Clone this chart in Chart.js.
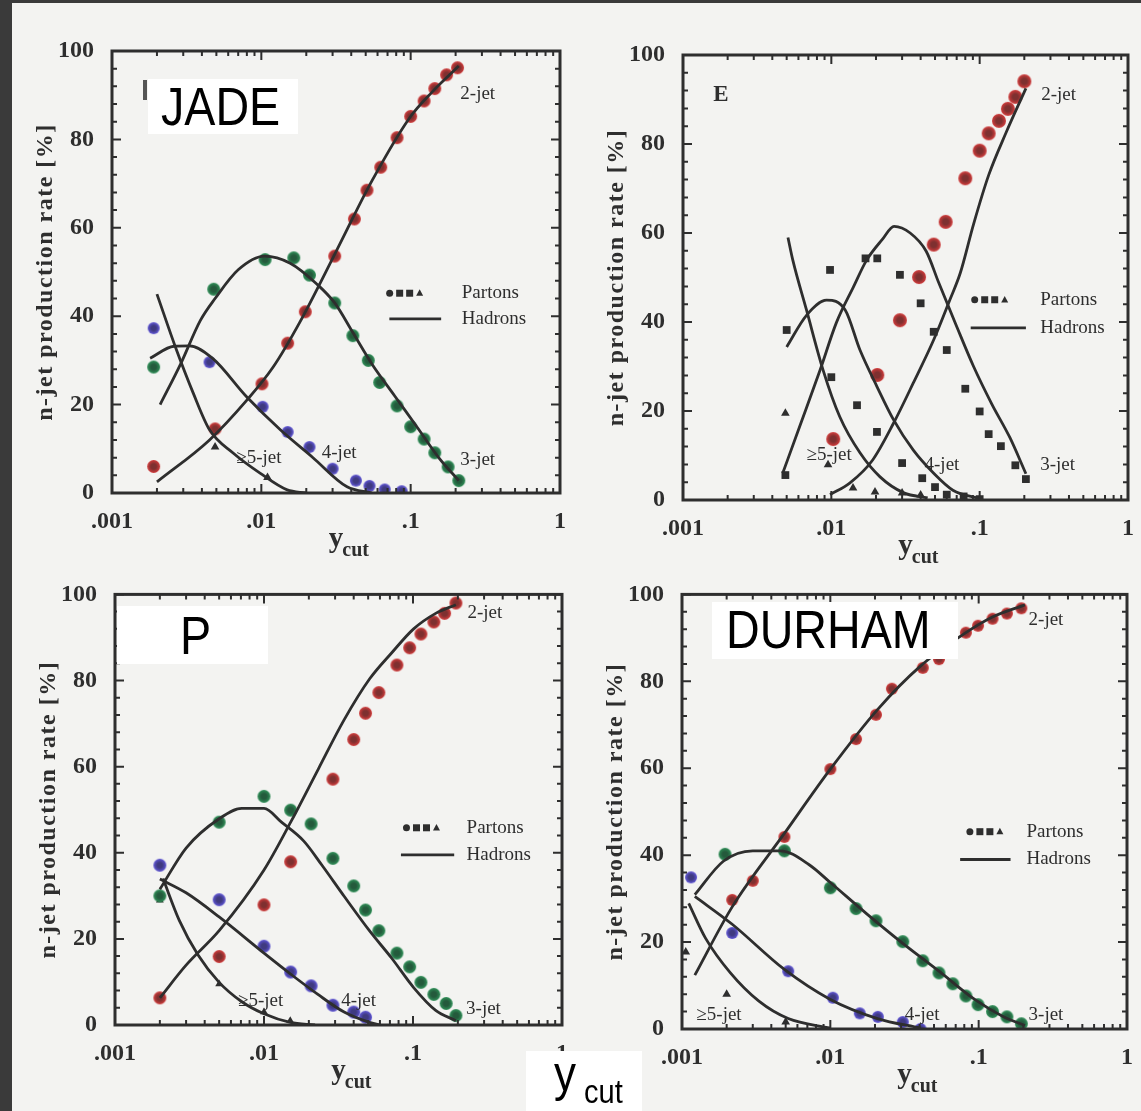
<!DOCTYPE html>
<html>
<head>
<meta charset="utf-8">
<script src="https://cdn.jsdelivr.net/npm/chart.js@4.4.1/dist/chart.umd.min.js"></script>
<style>
  html, body { margin: 0; padding: 0; }
  body { width: 1141px; height: 1111px; position: relative; overflow: hidden; background: #f3f3f1; }
  .edge-left { position: absolute; left: 0; top: 0; width: 12px; height: 1111px; background: #3a3a3a; }
  .edge-top { position: absolute; left: 0; top: 0; width: 1141px; height: 3px; background: #3a3a3a; }
  canvas { position: absolute; }
  .tag { position: absolute; background: #fff; color: #000; font-family: "Liberation Sans", sans-serif; line-height: 1; white-space: nowrap; }
  .tag span { position: absolute; transform: scaleX(0.88); transform-origin: left top; }
  .stray { position: absolute; left: 143px; top: 80px; width: 4px; height: 20px; background: #555; }
</style>
</head>
<body>
<div class="edge-left"></div>
<div class="edge-top"></div>
<div class="stray"></div>
<div class="tag" style="left:148px; top:79px; width:150px; height:55px;"><span style="left:13px; top:1px; font-size:53px;">JADE</span></div>
<div class="tag" style="left:117px; top:606px; width:151px; height:58px;"><span style="left:63px; top:3px; font-size:53px;">P</span></div>
<div class="tag" style="left:712px; top:602px; width:246px; height:57px;"><span style="left:14px; top:1px; font-size:53px;">DURHAM</span></div>
<div class="tag" style="left:526px; top:1051px; width:116px; height:60px;"><span style="left:28px; top:-2px; font-size:50px;">y</span><span style="left:58px; top:24px; font-size:33px;">cut</span></div>

<script>
// axis ticks and text
const xTickValues = [0.001, 0.01, 0.1, 1];
const xTickLabels = ['.001', '.01', '.1', '1'];
const yTickValues = [0, 20, 40, 60, 80, 100];
const jetLabels = ['2-jet', '3-jet', '4-jet', '≥5-jet'];
const legendLabels = ['Partons', 'Hadrons'];
const yTitle = 'n-jet production rate [%]';

// JADE: partons (points) and hadrons (curves), [ycut, rate %]
const jadeP2 = [[0.0019, 6], [0.0049, 14.5], [0.0101, 24.7], [0.015, 33.9], [0.0197, 41], [0.031, 53.6], [0.042, 62], [0.051, 68.5], [0.063, 73.7], [0.081, 80.4], [0.1, 85.2], [0.123, 88.7], [0.145, 91.5], [0.174, 94.6], [0.206, 96.2]];
const jadeP3 = [[0.0019, 28.5], [0.0048, 46.1], [0.0106, 52.8], [0.0165, 53.2], [0.021, 49.3], [0.031, 43], [0.041, 35.6], [0.052, 30], [0.062, 25], [0.081, 19.7], [0.1, 15], [0.123, 12.2], [0.145, 9.1], [0.178, 5.9], [0.21, 2.8]];
const jadeP4 = [[0.0019, 37.3], [0.0045, 29.6], [0.0102, 19.5], [0.015, 13.8], [0.021, 10.4], [0.03, 5.5], [0.043, 2.8], [0.053, 1.6], [0.067, 0.8], [0.087, 0.4]];
const jadeP5 = [[0.0049, 10.4], [0.011, 3.5]];
const jadeH2 = [[0.002, 2.5], [0.0045, 12], [0.008, 21], [0.012, 28.5], [0.018, 38.5], [0.031, 54], [0.055, 70.6], [0.098, 84.8], [0.139, 90.7], [0.21, 96.6]];
const jadeH3 = [[0.0021, 20], [0.0029, 29.4], [0.0039, 39], [0.0049, 44], [0.007, 50.5], [0.0105, 53.6], [0.0156, 52], [0.0235, 47.3], [0.031, 43], [0.041, 36.3], [0.055, 29.2], [0.078, 22], [0.11, 15], [0.155, 7.9], [0.21, 2.8]];
const jadeH4 = [[0.0018, 30.5], [0.0026, 33.2], [0.0033, 33.3], [0.0047, 30.5], [0.008, 21.7], [0.0134, 14.3], [0.022, 8.1], [0.0375, 1.4], [0.055, 0]];
const jadeH5 = [[0.002, 45], [0.0027, 32.4], [0.0035, 22.6], [0.0045, 14.3], [0.0065, 9], [0.0098, 4.5], [0.0149, 0.7], [0.02, 0]];

// E scheme
const eP2 = [[0.0103, 13.7], [0.0204, 28.1], [0.029, 40.4], [0.039, 50.1], [0.049, 57.4], [0.059, 62.5], [0.08, 72.3], [0.1, 78.5], [0.115, 82.4], [0.135, 85.2], [0.155, 87.9], [0.174, 90.6], [0.2, 94.1]];
const eP3 = [[0.0049, 5.6], [0.0098, 51.7], [0.017, 54.3], [0.0204, 54.3], [0.029, 50.6], [0.04, 44.2], [0.049, 37.8], [0.06, 33.7], [0.08, 25], [0.1, 19.9], [0.115, 14.8], [0.139, 12.1], [0.174, 7.8], [0.205, 4.7]];
const eP4 = [[0.005, 38.2], [0.01, 27.6], [0.0149, 21.3], [0.0203, 15.3], [0.03, 8.3], [0.041, 4.9], [0.05, 2.9], [0.06, 1.2], [0.078, 0.8], [0.1, 0.2]];
const eP5 = [[0.0049, 19.5], [0.0095, 7.9], [0.014, 2.7], [0.0197, 1.8], [0.03, 1.6], [0.04, 1.1]];
const eH2 = [[0.0098, 1.2], [0.0133, 3.8], [0.019, 9], [0.0263, 17.3], [0.0357, 26.3], [0.049, 36], [0.063, 45], [0.074, 51], [0.091, 62], [0.115, 73], [0.15, 82.4], [0.205, 92.5]];
const eH3 = [[0.0047, 6], [0.0061, 16.4], [0.0084, 29.2], [0.0108, 39.8], [0.0141, 47.9], [0.0173, 53.9], [0.022, 58.5], [0.0265, 61.5], [0.034, 60], [0.0436, 55.9], [0.053, 48.8], [0.069, 39.5], [0.091, 30], [0.121, 21.5], [0.16, 14], [0.205, 5.9]];
const eH4 = [[0.005, 34.4], [0.0068, 41.5], [0.0093, 44.9], [0.0124, 42.7], [0.0156, 33.7], [0.0203, 25.5], [0.0263, 18], [0.0357, 11.2], [0.049, 6], [0.066, 2.2], [0.1, 0.3]];
const eH5 = [[0.0051, 59], [0.0055, 53.9], [0.0068, 42.7], [0.0088, 29.2], [0.0114, 18.7], [0.0156, 10.6], [0.0213, 5.2], [0.0308, 1.6], [0.0446, 0.5]];

// P scheme
const pP2 = [[0.002, 6.3], [0.005, 15.9], [0.01, 27.9], [0.0151, 37.9], [0.029, 57.1], [0.04, 66.3], [0.048, 72.4], [0.059, 77.2], [0.078, 83.6], [0.095, 87.6], [0.113, 90.8], [0.138, 93.6], [0.163, 95.6], [0.194, 98]];
const pP3 = [[0.002, 30], [0.005, 47.1], [0.01, 53.1], [0.0151, 49.9], [0.0207, 46.7], [0.029, 38.7], [0.04, 32.3], [0.048, 26.7], [0.059, 21.9], [0.078, 16.7], [0.095, 13.5], [0.113, 9.9], [0.138, 7.1], [0.167, 5], [0.194, 2.2]];
const pP4 = [[0.002, 37.1], [0.005, 29.1], [0.01, 18.3], [0.0151, 12.3], [0.0207, 9.1], [0.029, 4.6], [0.04, 3], [0.048, 1.8]];
const pP5 = [[0.002, 29], [0.005, 9.5], [0.01, 3], [0.015, 1]];
const pH2 = [[0.002, 6.3], [0.003, 13.9], [0.005, 21.9], [0.01, 36], [0.0151, 47.1], [0.0232, 59.5], [0.0344, 70.8], [0.0512, 80.4], [0.0718, 86.4], [0.101, 92], [0.142, 95.6], [0.194, 97.6]];
const pH3 = [[0.002, 31.5], [0.003, 41.1], [0.005, 47.9], [0.0071, 50.3], [0.01, 50.3], [0.0131, 47.1], [0.0185, 42.7], [0.0245, 37.1], [0.0345, 29.9], [0.051, 21.9], [0.072, 15.5], [0.101, 8.7], [0.142, 3.4], [0.194, 1]];
const pH4 = [[0.002, 33.9], [0.003, 30.7], [0.005, 25.1], [0.01, 16.7], [0.015, 11.9], [0.023, 7.1], [0.0345, 3], [0.051, 0.6], [0.06, 0]];
const pH5 = [[0.0021, 34], [0.0027, 24.3], [0.0036, 16.3], [0.005, 9.9], [0.0071, 5.4], [0.01, 2.6], [0.015, 0.6], [0.022, 0]];

// DURHAM scheme
const dP2 = [[0.00218, 29.7], [0.003, 34.1], [0.0049, 44.2], [0.01, 59.8], [0.0149, 66.7], [0.0203, 72.3], [0.026, 78.3], [0.042, 83.1], [0.054, 85.1], [0.082, 91.2], [0.099, 92.8], [0.124, 94.4], [0.155, 95.6], [0.194, 96.8]];
const dP3 = [[0.00195, 40.2], [0.0049, 41], [0.01, 32.5], [0.0149, 27.7], [0.0203, 24.9], [0.0308, 20.1], [0.042, 15.7], [0.054, 12.9], [0.067, 10.4], [0.082, 7.6], [0.099, 5.6], [0.124, 4], [0.155, 2.8], [0.194, 1.2]];
const dP4 = [[0.00115, 34.9], [0.00218, 22.1], [0.0052, 13.3], [0.0104, 7.2], [0.0158, 3.6], [0.0209, 2.8], [0.0308, 1.6], [0.0405, 0]];
const dP5 = [[0.00106, 17.7], [0.002, 8], [0.005, 1.6]];
const dH2 = [[0.00122, 12.4], [0.00218, 28.1], [0.0049, 45], [0.01, 59.8], [0.0208, 73.5], [0.0405, 83.5], [0.082, 91.2], [0.124, 94.8], [0.205, 97.6]];
const dH3 = [[0.00122, 30.9], [0.0019, 38.6], [0.003, 41], [0.0046, 41], [0.0072, 37.8], [0.01, 33.7], [0.0176, 26.5], [0.0308, 19.7], [0.054, 13.3], [0.094, 6.8], [0.147, 2.8], [0.205, 0.8]];
const dH4 = [[0.00122, 30.5], [0.00218, 24.1], [0.0049, 13.7], [0.01, 6.8], [0.0208, 2.4], [0.0405, 0.2]];
const dH5 = [[0.00111, 28.9], [0.00144, 20.9], [0.00212, 12.9], [0.0033, 6.4], [0.0052, 2.4], [0.01, 0.2]];

const INK = '#2e2e2e';
const SERIF = '"Liberation Serif", "DejaVu Serif", serif';
// [rim colour, core colour] for the round markers
const RED = ['#d23b3b', '#7e3030'];
const GREEN = ['#2f9058', '#245a3c'];
const PURPLE = ['#5f55d6', '#3f3a80'];

// canvas box [left, top, width, height] and plot box [left, top, right, bottom] in page pixels
const panels = [
  {
    canvas: [12, 20, 566, 550], plot: [112, 51, 560, 493],
    partons: [jadeP2, jadeP3, jadeP4, jadeP5], hadrons: [jadeH2, jadeH3, jadeH4, jadeH5],
    styles: ['circle', 'circle', 'circle', 'triangle'], colors: [RED, GREEN, PURPLE, INK], radii: [6.5, 6.5, 6, 5],
    labelPos: [[0.215, 90.3], [0.215, 7.5], [0.0254, 9], [0.0068, 8]],
    legend: { sym: 0.068, text: 0.22, line: [0.072, 0.16], y: [45.2, 39.4] }
  },
  {
    canvas: [590, 20, 551, 550], plot: [683, 55, 1128, 500],
    partons: [eP2, eP3, eP4, eP5], hadrons: [eH2, eH3, eH4, eH5],
    styles: ['circle', 'rect', 'rect', 'triangle'], colors: [RED, INK, INK, INK], radii: [7, 5.5, 5.5, 5],
    labelPos: [[0.26, 91], [0.256, 7.8], [0.0425, 7.8], [0.0068, 10]],
    legend: { sym: 0.087, text: 0.256, line: [0.087, 0.205], y: [45, 38.7] },
    mark: { text: 'E', x: 0.0016, y: 91 }
  },
  {
    canvas: [12, 570, 566, 541], plot: [115, 591, 562, 1025],
    partons: [pP2, pP3, pP4, pP5], hadrons: [pH2, pH3, pH4, pH5],
    styles: ['circle', 'circle', 'circle', 'triangle'], colors: [RED, GREEN, PURPLE, INK], radii: [6.5, 6.5, 6.5, 4.5],
    labelPos: [[0.232, 95.6], [0.227, 3.8], [0.033, 5.5], [0.0067, 5.5]],
    legend: { sym: 0.085, text: 0.229, line: [0.083, 0.189], y: [45.8, 39.5] }
  },
  {
    canvas: [590, 570, 551, 541], plot: [682, 592, 1127, 1029],
    partons: [dP2, dP3, dP4, dP5], hadrons: [dH2, dH3, dH4, dH5],
    styles: ['circle', 'circle', 'circle', 'triangle'], colors: [RED, GREEN, PURPLE, INK], radii: [6, 6.5, 6, 5],
    labelPos: [[0.217, 94], [0.217, 3.2], [0.0317, 3.2], [0.00125, 3.2]],
    legend: { sym: 0.082, text: 0.21, line: [0.075, 0.164], y: [45.4, 39] }
  }
];

// round marker with a darker core, like ink under a colour wash
function dotImage([rim, core], r) {
  const s = Math.ceil(r * 2 + 2);
  const c = document.createElement('canvas');
  c.width = c.height = s;
  const g = c.getContext('2d');
  const grad = g.createRadialGradient(s / 2, s / 2, 0, s / 2, s / 2, r);
  grad.addColorStop(0, core);
  grad.addColorStop(0.4, core);
  grad.addColorStop(1, rim);
  g.fillStyle = grad;
  g.beginPath();
  g.arc(s / 2, s / 2, r, 0, Math.PI * 2);
  g.fill();
  return c;
}

function drawMarker(ctx, style, x, y, r) {
  ctx.beginPath();
  if (style === 'circle') {
    ctx.arc(x, y, r, 0, Math.PI * 2);
  } else if (style === 'rect') {
    ctx.rect(x - r, y - r, 2 * r, 2 * r);
  } else {
    ctx.moveTo(x, y - r * 1.1);
    ctx.lineTo(x + r, y + r * 0.75);
    ctx.lineTo(x - r, y + r * 0.75);
    ctx.closePath();
  }
  ctx.fill();
}

// frame with inward ticks, in-plot labels, legend and axis titles
const paperPlugin = {
  id: 'paper',
  afterDatasetsDraw(chart, args, opts) {
    const p = opts.panel;
    const { ctx, chartArea: a, scales: { x, y } } = chart;
    ctx.save();
    ctx.strokeStyle = INK;
    ctx.lineWidth = 3;
    ctx.strokeRect(a.left, a.top, a.right - a.left, a.bottom - a.top);

    ctx.lineWidth = 2;
    ctx.beginPath();
    for (let v = 0; v <= 100; v += 4) {
      const py = y.getPixelForValue(v);
      const len = v % 20 === 0 ? 9 : 5;
      ctx.moveTo(a.left, py); ctx.lineTo(a.left + len, py);
      ctx.moveTo(a.right, py); ctx.lineTo(a.right - len, py);
    }
    for (let d = -3; d < 0; d++) {
      for (let k = 1; k <= 9; k++) {
        const px = x.getPixelForValue(k * Math.pow(10, d));
        const len = k === 1 ? 9 : 5;
        ctx.moveTo(px, a.bottom); ctx.lineTo(px, a.bottom - len);
        ctx.moveTo(px, a.top); ctx.lineTo(px, a.top + len);
      }
    }
    ctx.stroke();

    ctx.fillStyle = INK;
    ctx.textBaseline = 'middle';
    ctx.textAlign = 'left';
    ctx.font = '19px ' + SERIF;
    jetLabels.forEach((t, i) => {
      const [lx, ly] = p.labelPos[i];
      ctx.fillText(t, x.getPixelForValue(lx), y.getPixelForValue(ly));
    });

    // legend
    const lg = p.legend;
    const sx = x.getPixelForValue(lg.sym);
    const sy = y.getPixelForValue(lg.y[0]);
    ['circle', 'rect', 'rect', 'triangle'].forEach((s, i) => drawMarker(ctx, s, sx + 4 + i * 10, sy, 3.5));
    ctx.fillText(legendLabels[0], x.getPixelForValue(lg.text), sy);
    const hy = y.getPixelForValue(lg.y[1]);
    ctx.lineWidth = 2.8;
    ctx.beginPath();
    ctx.moveTo(x.getPixelForValue(lg.line[0]), hy);
    ctx.lineTo(x.getPixelForValue(lg.line[1]), hy);
    ctx.stroke();
    ctx.fillText(legendLabels[1], x.getPixelForValue(lg.text), hy);

    if (p.mark) {
      ctx.font = 'bold 23px ' + SERIF;
      ctx.fillText(p.mark.text, x.getPixelForValue(p.mark.x), y.getPixelForValue(p.mark.y));
    }

    // x title with subscript
    const cx = (a.left + a.right) / 2;
    ctx.textBaseline = 'alphabetic';
    ctx.textAlign = 'center';
    ctx.font = 'bold 29px ' + SERIF;
    ctx.fillText('y', cx, a.bottom + 54);
    const yw = ctx.measureText('y').width;
    ctx.textAlign = 'left';
    ctx.font = 'bold 20px ' + SERIF;
    ctx.fillText('cut', cx + yw / 2 - 1, a.bottom + 63);

    // rotated y title
    ctx.translate(a.left - 66, (a.top + a.bottom) / 2);
    ctx.rotate(-Math.PI / 2);
    ctx.textAlign = 'center';
    ctx.textBaseline = 'middle';
    ctx.font = 'bold 24px ' + SERIF;
    ctx.letterSpacing = '1.5px';
    ctx.fillText(yTitle, 0, 0);
    ctx.restore();
  }
};

const pts = arr => arr.map(([x, y]) => ({ x, y }));

panels.forEach(p => {
  const [cl, ct, cw, ch] = p.canvas;
  const [pl, pt, pr, pb] = p.plot;
  const canvas = document.createElement('canvas');
  canvas.width = cw;
  canvas.height = ch;
  canvas.style.left = cl + 'px';
  canvas.style.top = ct + 'px';
  document.body.insertBefore(canvas, document.querySelector('.tag'));

  const datasets = [];
  p.hadrons.forEach(h => datasets.push({
    data: pts(h), showLine: true, pointRadius: 0, borderColor: INK, borderWidth: 2.8,
    cubicInterpolationMode: 'monotone', order: 1
  }));
  p.partons.forEach((d, i) => {
    const round = p.styles[i] === 'circle';
    const fill = round ? p.colors[i][0] : p.colors[i];
    datasets.push({
      data: pts(d), showLine: false,
      pointStyle: round ? dotImage(p.colors[i], p.radii[i]) : p.styles[i],
      pointRadius: p.radii[i],
      pointBackgroundColor: fill, pointBorderColor: fill, pointBorderWidth: 0, order: 2
    });
  });

  const tickFont = { family: SERIF, size: 24, weight: 'bold' };
  new Chart(canvas.getContext('2d'), {
    type: 'scatter',
    data: { datasets },
    plugins: [paperPlugin],
    options: {
      responsive: false,
      animation: false,
      events: [],
      layout: { padding: { top: pt - ct, right: cl + cw - pr, left: 0, bottom: 0 } },
      plugins: { legend: { display: false }, tooltip: { enabled: false }, paper: { panel: p } },
      scales: {
        x: {
          type: 'logarithmic', min: 0.001, max: 1,
          grid: { display: false }, border: { display: false },
          afterBuildTicks: ax => { ax.ticks = xTickValues.map(v => ({ value: v })); },
          afterFit: ax => { ax.height = ct + ch - pb; },
          ticks: { autoSkip: false, maxRotation: 0, padding: 6, font: tickFont, color: INK, callback: (v, i) => xTickLabels[i] }
        },
        y: {
          min: 0, max: 100,
          grid: { display: false }, border: { display: false },
          afterBuildTicks: ax => { ax.ticks = yTickValues.map(v => ({ value: v })); },
          afterFit: ax => { ax.width = pl - cl; },
          ticks: { padding: 10, font: tickFont, color: INK, callback: v => String(v) }
        }
      }
    }
  });
});
</script>
</body>
</html>
